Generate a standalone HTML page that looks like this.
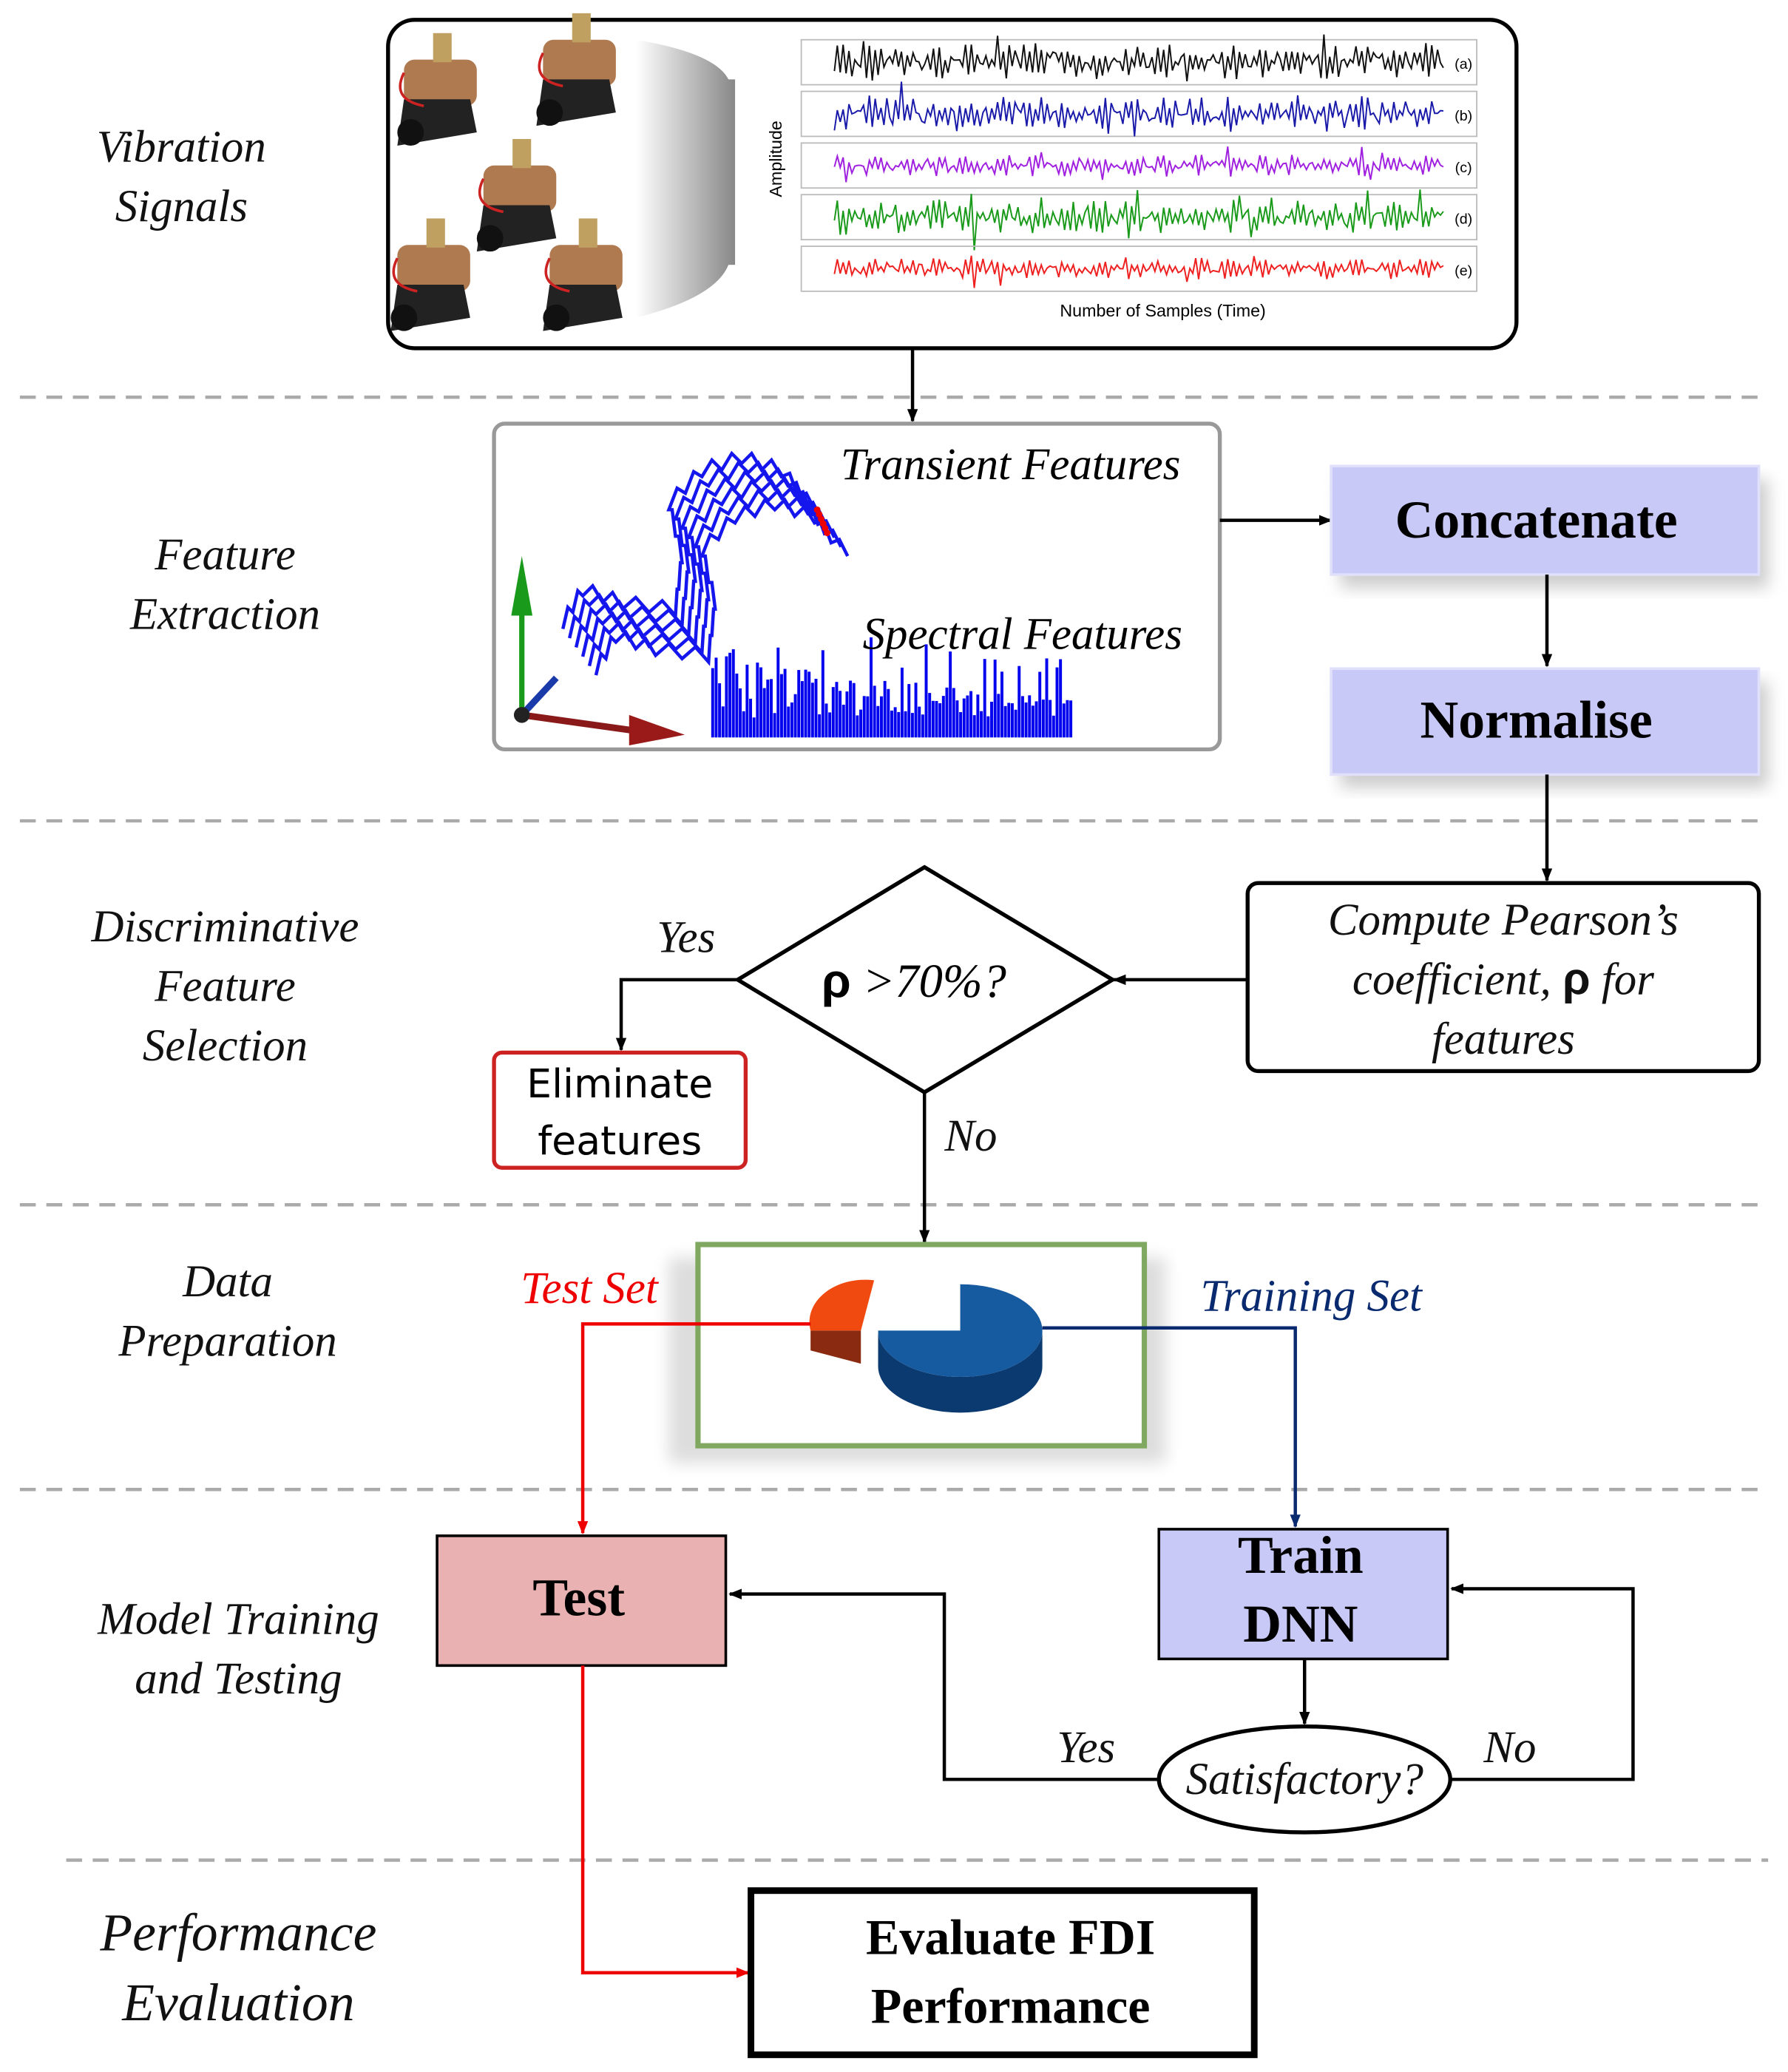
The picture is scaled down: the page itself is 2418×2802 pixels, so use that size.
<!DOCTYPE html>
<html><head><meta charset="utf-8"><style>
html,body{margin:0;padding:0;background:#fff;}
svg{display:block;}
.lab{font-family:"Liberation Serif",serif;font-style:italic;font-size:34px;fill:#111;text-anchor:middle;}
</style></head><body>
<svg id="s" width="2418" height="2802" viewBox="0 0 1350 1565" preserveAspectRatio="none" xmlns="http://www.w3.org/2000/svg">
<defs>
<marker id="ah" markerWidth="10" markerHeight="10" refX="9" refY="5" orient="auto" markerUnits="userSpaceOnUse"><path d="M0,1 L10,5 L0,9 z" fill="#000"/></marker>
<marker id="ahr" markerWidth="10" markerHeight="10" refX="9" refY="5" orient="auto" markerUnits="userSpaceOnUse"><path d="M0,1 L10,5 L0,9 z" fill="#e00"/></marker>
<marker id="ahb" markerWidth="10" markerHeight="10" refX="9" refY="5" orient="auto" markerUnits="userSpaceOnUse"><path d="M0,1 L10,5 L0,9 z" fill="#0a2a70"/></marker>
<linearGradient id="ga" x1="0" x2="1"><stop offset="0" stop-color="#fff"/><stop offset="1" stop-color="#888"/></linearGradient>
<filter id="sh"><feGaussianBlur stdDeviation="6"/></filter>
</defs>
<g stroke="#aaa" stroke-width="2.5" stroke-dasharray="12,8">
<line x1="15" y1="300" x2="1335" y2="300"/><line x1="15" y1="620" x2="1335" y2="620"/>
<line x1="15" y1="910" x2="1335" y2="910"/><line x1="15" y1="1125" x2="1335" y2="1125"/>
<line x1="50" y1="1405" x2="1335" y2="1405"/></g>
<text class="lab" x="137" y="122">Vibration</text><text class="lab" x="137" y="167">Signals</text>
<text class="lab" x="170" y="430">Feature</text><text class="lab" x="170" y="475">Extraction</text>
<text class="lab" x="170" y="711">Discriminative</text><text class="lab" x="170" y="756">Feature</text><text class="lab" x="170" y="801">Selection</text>
<text class="lab" x="172" y="979">Data</text><text class="lab" x="172" y="1024">Preparation</text>
<text class="lab" x="180" y="1234">Model Training</text><text class="lab" x="180" y="1279">and Testing</text>
<text class="lab" x="180" y="1473" style="font-size:40px">Performance</text><text class="lab" x="180" y="1526" style="font-size:40px">Evaluation</text>
<rect x="293" y="15" width="852" height="248" rx="20" fill="#fff" stroke="#000" stroke-width="3"/>
<path d="M480,30 Q540,40 550,60 L555,60 L555,200 L550,200 Q540,225 480,240 Z" fill="url(#ga)"/>
<g id="pumps"></g>
<g id="sig"></g>
<text x="590" y="120" transform="rotate(-90 590 120)" font-family="Liberation Sans,sans-serif" font-size="13" text-anchor="middle">Amplitude</text>
<text x="878" y="239" font-family="Liberation Sans,sans-serif" font-size="13" text-anchor="middle">Number of Samples (Time)</text>
<line x1="689" y1="263" x2="689" y2="318" stroke="#000" stroke-width="2.5" marker-end="url(#ah)"/>
<rect x="373" y="320" width="548" height="246" rx="8" fill="#fff" stroke="#999" stroke-width="3"/>
<g id="wave" fill="none" stroke="#1515ee" stroke-width="2.5"></g>
<g id="bars" fill="#0000ee"></g>
<line x1="394" y1="540" x2="394" y2="440" stroke="#1a9a1a" stroke-width="4"/><path d="M386,465 L394,420 L402,465 Z" fill="#1a9a1a"/>
<line x1="394" y1="540" x2="480" y2="552" stroke="#8a1a1a" stroke-width="5"/><path d="M475,540 L517,555 L475,563 Z" fill="#9a1a1a"/>
<line x1="394" y1="540" x2="420" y2="512" stroke="#1a3aaa" stroke-width="5"/>
<circle cx="394" cy="540" r="6" fill="#222"/>
<text x="763" y="362" font-family="Liberation Serif,serif" font-style="italic" font-size="34" text-anchor="middle">Transient Features</text>
<text x="772" y="490" font-family="Liberation Serif,serif" font-style="italic" font-size="34" text-anchor="middle">Spectral Features</text>
<line x1="921" y1="393" x2="1005" y2="393" stroke="#000" stroke-width="2.5" marker-end="url(#ah)"/>
<rect x="1012" y="362" width="323" height="82" fill="#ccc" filter="url(#sh)"/>
<rect x="1005" y="352" width="323" height="82" fill="#c9c9f7" stroke="#e0e0fb" stroke-width="2"/>
<text x="1160" y="406" font-family="Liberation Serif,serif" font-weight="bold" font-size="40" text-anchor="middle">Concatenate</text>
<line x1="1168" y1="434" x2="1168" y2="503" stroke="#000" stroke-width="2.5" marker-end="url(#ah)"/>
<rect x="1012" y="515" width="323" height="80" fill="#ccc" filter="url(#sh)"/>
<rect x="1005" y="505" width="323" height="80" fill="#c9c9f7" stroke="#e0e0fb" stroke-width="2"/>
<text x="1160" y="557" font-family="Liberation Serif,serif" font-weight="bold" font-size="40" text-anchor="middle">Normalise</text>
<line x1="1168" y1="585" x2="1168" y2="665" stroke="#000" stroke-width="2.5" marker-end="url(#ah)"/>
<rect x="942" y="667" width="386" height="142" rx="8" fill="#fff" stroke="#000" stroke-width="3"/>
<text class="lab" x="1135" y="706">Compute Pearson’s</text>
<text class="lab" x="1135" y="751">coefficient, <tspan font-style="normal" font-weight="bold" font-family="Liberation Sans,sans-serif">ρ</tspan> for</text>
<text class="lab" x="1135" y="796">features</text>
<line x1="942" y1="740" x2="841" y2="740" stroke="#000" stroke-width="2.5" marker-end="url(#ah)"/>
<path d="M698,655 L840,740 L698,825 L557,740 Z" fill="#fff" stroke="#000" stroke-width="3"/>
<text x="690" y="753" font-family="Liberation Serif,serif" font-style="italic" font-size="36" text-anchor="middle"><tspan font-style="normal" font-weight="bold" font-family="Liberation Sans,sans-serif">ρ</tspan> &gt;70%?</text>
<polyline points="557,740 469,740 469,793" fill="none" stroke="#000" stroke-width="2.5" marker-end="url(#ah)"/>
<text class="lab" x="518" y="719">Yes</text>
<rect x="373" y="795" width="190" height="87" rx="6" fill="#fff" stroke="#cc2222" stroke-width="3"/>
<text x="468" y="829" font-family="DejaVu Sans,sans-serif" font-size="30" text-anchor="middle">Eliminate</text>
<text x="468" y="872" font-family="DejaVu Sans,sans-serif" font-size="30" text-anchor="middle">features</text>
<line x1="698" y1="825" x2="698" y2="938" stroke="#000" stroke-width="2.5" marker-end="url(#ah)"/>
<text class="lab" x="733" y="869">No</text>
<rect x="505" y="950" width="375" height="155" fill="#ddd" filter="url(#sh)"/>
<rect x="527" y="940" width="337" height="152" fill="#fff" stroke="#80a860" stroke-width="4"/>
<!-- pie -->
<path d="M663,1005 A62,35 0 0 0 787,1005 L787,1032 A62,35 0 0 1 663,1032 Z" fill="#0a3a70"/>
<path d="M725,1005 L725,970 A62,35 0 1 1 663,1005 Z" fill="#165aa0"/>
<path d="M663,1005 L725,1005 L725,1032 L663,1032 Z" fill="#0d4585" opacity="0"/>
<path d="M612,1005 L612,1020 L650,1030 L650,1005 Z" fill="#8a2a10"/>
<path d="M650,1005 L612,1005 A42,32 0 0 1 660,967 Z" fill="#f04a10"/>
<text x="445" y="984" font-family="Liberation Serif,serif" font-style="italic" font-size="34" text-anchor="middle" fill="#e00">Test Set</text>
<text x="990" y="990" font-family="Liberation Serif,serif" font-style="italic" font-size="34" text-anchor="middle" fill="#0a2a70">Training Set</text>
<polyline points="612,1000 440,1000 440,1158" fill="none" stroke="#e00" stroke-width="2.5" marker-end="url(#ahr)"/>
<polyline points="787,1003 978,1003 978,1153" fill="none" stroke="#0a2a70" stroke-width="2.5" marker-end="url(#ahb)"/>
<rect x="330" y="1160" width="218" height="98" fill="#e9b1b1" stroke="#000" stroke-width="2"/>
<text x="437" y="1220" font-family="Liberation Serif,serif" font-weight="bold" font-size="40" text-anchor="middle">Test</text>
<rect x="875" y="1155" width="218" height="98" fill="#c9c9f7" stroke="#000" stroke-width="2"/>
<text x="982" y="1188" font-family="Liberation Serif,serif" font-weight="bold" font-size="40" text-anchor="middle">Train</text>
<text x="982" y="1240" font-family="Liberation Serif,serif" font-weight="bold" font-size="40" text-anchor="middle">DNN</text>
<line x1="985" y1="1253" x2="985" y2="1302" stroke="#000" stroke-width="2.5" marker-end="url(#ah)"/>
<ellipse cx="985" cy="1344" rx="110" ry="40" fill="#fff" stroke="#000" stroke-width="3"/>
<text class="lab" x="985" y="1355">Satisfactory?</text>
<polyline points="875,1344 713,1344 713,1204 551,1204" fill="none" stroke="#000" stroke-width="2.5" marker-end="url(#ah)"/>
<text class="lab" x="820" y="1331">Yes</text>
<polyline points="1095,1344 1233,1344 1233,1200 1096,1200" fill="none" stroke="#000" stroke-width="2.5" marker-end="url(#ah)"/>
<text class="lab" x="1140" y="1331">No</text>
<polyline points="440,1258 440,1490 565,1490" fill="none" stroke="#e00" stroke-width="2.5" marker-end="url(#ahr)"/>
<rect x="567" y="1428" width="380" height="124" fill="#fff" stroke="#000" stroke-width="5"/>
<text x="763" y="1476" font-family="Liberation Serif,serif" font-weight="bold" font-size="38" text-anchor="middle">Evaluate FDI</text>
<text x="763" y="1528" font-family="Liberation Serif,serif" font-weight="bold" font-size="38" text-anchor="middle">Performance</text>
</svg>
<script>
var NS="http://www.w3.org/2000/svg";
function el(p,t,a){var e=document.createElementNS(NS,t);for(var k in a)e.setAttribute(k,a[k]);p.appendChild(e);return e;}
var sig=document.getElementById("sig");
var cols=["#111","#1a1aaa","#a020e0","#1a9a1a","#ee2020"],labs=["(a)","(b)","(c)","(d)","(e)"];
var seed=7;function rnd(){seed=(seed*9301+49297)%233280;return seed/233280;}
for(var i=0;i<5;i++){var y0=30+i*39;
el(sig,"rect",{x:605,y:y0,width:510,height:34,fill:"none",stroke:"#bbb","stroke-width":1});
var cy=y0+17,pts=[];for(var x=630;x<=1092;x+=2.2){var a=(i==2||i==4)?7:12;var v=(Math.sin(x*1.3)*a*0.7+(rnd()-0.5)*a);if(rnd()<0.08)v*=1.8;pts.push(x.toFixed(1)+","+(cy+v).toFixed(1));}
el(sig,"polyline",{points:pts.join(" "),fill:"none",stroke:cols[i],"stroke-width":1.1});
var t=el(sig,"text",{x:1105,y:y0+22,"font-family":"Liberation Sans,sans-serif","font-size":11,"text-anchor":"middle"});t.textContent=labs[i];}
var pm=document.getElementById("pumps");
[[335,70],[440,55],[395,150],[330,210],[445,210]].forEach(function(p){var x=p[0],y=p[1];
el(pm,"rect",{x:x-30,y:y-25,width:55,height:35,rx:8,fill:"#b07a50"});
el(pm,"rect",{x:x-8,y:y-45,width:14,height:22,fill:"#c0a060"});
el(pm,"path",{d:"M"+(x-30)+","+(y+5)+" l50,0 l5,25 l-60,10 z",fill:"#222"});
el(pm,"circle",{cx:x-25,cy:y+30,r:10,fill:"#111"});
el(pm,"path",{d:"M"+(x-30)+","+(y-15)+" q-10,20 15,25",fill:"none",stroke:"#c22","stroke-width":2});});
var w=document.getElementById("wave");
for(var k=0;k<6;k++){var dx=k*5,dy=k*7,pts=[];
var base=[[425,470],[440,445],[470,455],[510,460],[515,420],[505,380],[530,355],[560,345],[590,355],[615,385]];
for(var j=0;j<base.length-1;j++){var a=base[j],b=base[j+1];for(var s=0;s<4;s++){var f=s/4;var zz=(s%2?-5:5);pts.push((a[0]+(b[0]-a[0])*f+dx)+","+(a[1]+(b[1]-a[1])*f+dy+zz));}}
pts.push((615+dx)+","+(385+dy));
el(w,"polyline",{points:pts.join(" ")});
el(document.getElementById("s"),"circle",{cx:617+dx*0.3,cy:385+dy*0.5,r:2.5,fill:"#e00"});}
var bs=document.getElementById("bars");
for(var x=537;x<810;x+=2.6){var h=15+rnd()*45*(1-(x-537)/400)+ (rnd()<0.15?30:0);if(x<560)h+=25*rnd();
el(bs,"rect",{x:x,y:557-h,width:2.2,height:h});}
</script>
</body></html>
